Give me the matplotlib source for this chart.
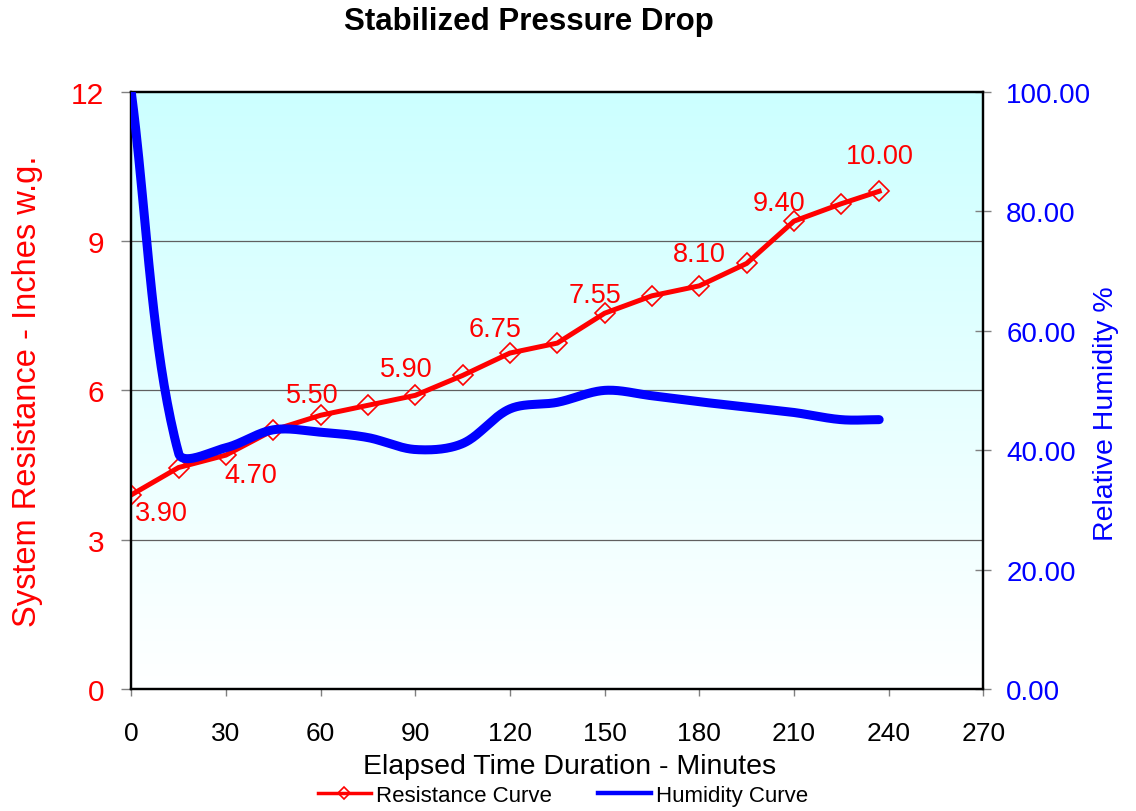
import numpy as np
import matplotlib.pyplot as plt
from matplotlib.lines import Line2D

plt.rcParams['font.family'] = ['Liberation Sans', 'DejaVu Sans']

# readings taken off the chart
minutes = [0, 15, 30, 45, 60, 75, 90, 105, 120, 135, 150, 165, 180, 195, 210, 225, 237]
resistance = [3.90, 4.45, 4.70, 5.20, 5.50, 5.70, 5.90, 6.30, 6.75, 6.95, 7.55, 7.90,
              8.10, 8.55, 9.40, 9.75, 10.00]
humidity = [100.0, 39.5, 40.4, 43.4, 43.0, 42.1, 40.1, 41.1, 46.9, 48.0, 50.0, 49.1,
            48.1, 47.2, 46.3, 45.1, 45.1]
x_ticks = [0, 30, 60, 90, 120, 150, 180, 210, 240, 270]
left_ticks = [0, 3, 6, 9, 12]
right_ticks = [0, 20, 40, 60, 80, 100]
label_idx = [0, 2, 4, 6, 8, 10, 12, 14, 16]
# pixel offsets of each value label from its point (dx, dy to baseline)
label_off = [(30, -25), (25, -27), (-8, 13), (-9, 19), (-15, 17), (-10, 11), (0, 25),
             (-15, 11), (1, 28)]

RED = '#FF0000'
BLUE = '#0000FF'
GRAY = '#808080'

fig = plt.figure(figsize=(11.36, 8.12), dpi=100)
ax = fig.add_axes([0.1155, 0.1502, 0.7501, 0.7356])
ax.set_xlim(0, 270)
ax.set_ylim(0, 12)

# gradient background, cyan at top to white at bottom
grad = np.linspace(0, 1, 256)[:, None]
top = np.array([0.80, 1.0, 1.0])
bot = np.array([1.0, 1.0, 1.0])
img = top[None, None, :] * (1 - grad[:, :, None]) + bot[None, None, :] * grad[:, :, None]
ax.imshow(img, extent=[0, 270, 0, 12], aspect='auto', zorder=0, origin='upper')
ax.set_xlim(0, 270)
ax.set_ylim(0, 12)

for g in [3, 6, 9]:
    ax.axhline(g, color='#606060', lw=0.9, zorder=1)

ax.plot(minutes, resistance, color=RED, lw=3.6, marker='D', ms=10,
        mfc='none', mec=RED, mew=1.2, zorder=3)

for k, (dx, dy) in zip(label_idx, label_off):
    ax.annotate('%.2f' % resistance[k], (minutes[k], resistance[k]),
                xytext=(dx, dy), textcoords='offset pixels', ha='center',
                va='baseline', color=RED, fontsize=19.5, zorder=4)

ax.set_xticks(x_ticks)
ax.set_yticks(left_ticks)
ax.tick_params(axis='x', direction='out', length=5, width=1, color=GRAY,
               labelsize=19, pad=18, labelcolor='black')
ax.tick_params(axis='y', direction='out', length=7, width=1, color=GRAY,
               labelsize=21.5, pad=12.5, labelcolor=RED)
for s in ax.spines.values():
    s.set_linewidth(1.6)
    s.set_color('black')

ax.set_xlabel('Elapsed Time Duration - Minutes', fontsize=20.5)
ax.xaxis.set_label_coords(0.5145, -0.107)
ax.set_ylabel('System Resistance - Inches w.g.', fontsize=23.5, color=RED)
ax.yaxis.set_label_coords(-0.1035, 0.5)

# humidity on second axis
ax2 = ax.twinx()
ax2.set_ylim(0, 100)
ax2.set_xlim(0, 270)
ax2.set_yticks(right_ticks)
ax2.set_yticklabels(['%.2f' % v for v in right_ticks])
ax2.tick_params(axis='y', direction='inout', length=12, width=1, color=GRAY,
                labelsize=20, pad=10.5, labelcolor=BLUE)
for s in ax2.spines.values():
    s.set_linewidth(1.6)
    s.set_color('black')


def excel_smooth(axis, xs, ys, n=40):
    # bezier smoothing in screen space, similar to a spreadsheet "smoothed line"
    pts = axis.transData.transform(np.column_stack([xs, ys]))
    out = [pts[0]]
    m = len(pts)
    for i in range(m - 1):
        p0 = pts[i - 1] if i > 0 else pts[i]
        p1 = pts[i]
        p2 = pts[i + 1]
        p3 = pts[i + 2] if i + 2 < m else pts[i + 1]
        d01 = np.hypot(*(p1 - p0))
        d12 = np.hypot(*(p2 - p1))
        d23 = np.hypot(*(p3 - p2))
        c1 = p1 + (p2 - p0) * d12 / (d01 + d12) / 3
        c2 = p2 - (p3 - p1) * d12 / (d12 + d23) / 3
        t = np.linspace(0, 1, n)[1:, None]
        seg = ((1 - t) ** 3) * p1 + 3 * ((1 - t) ** 2) * t * c1 + \
            3 * (1 - t) * t ** 2 * c2 + t ** 3 * p2
        out.extend(seg)
    out = np.array(out)
    back = axis.transData.inverted().transform(out)
    return back[:, 0], back[:, 1]


hx, hy = excel_smooth(ax2, minutes, humidity)
ax2.plot(hx, hy, color=BLUE, lw=6.5, solid_capstyle='round', zorder=3)

ax2.set_ylabel('Relative Humidity %', fontsize=20.5, color=BLUE)
ax2.yaxis.set_label_coords(1.1285, 0.463)

fig.text(0.4652, 1 - 30 / 812, 'Stabilized Pressure Drop', ha='center',
         va='baseline', fontsize=22.5, fontweight='bold')

handles = [
    Line2D([], [], color=RED, lw=2.5, marker='D', ms=6, mfc='none', mec=RED, mew=1.2),
    Line2D([], [], color=BLUE, lw=3.2),
]
fig.legend(handles, ['Resistance Curve', 'Humidity Curve'], loc='center',
           bbox_to_anchor=(0.4955, 0.0197), ncol=2, frameon=False, fontsize=16,
           handlelength=2.4, handletextpad=0.2, columnspacing=2.1)

fig.savefig('out.png', dpi=100)
